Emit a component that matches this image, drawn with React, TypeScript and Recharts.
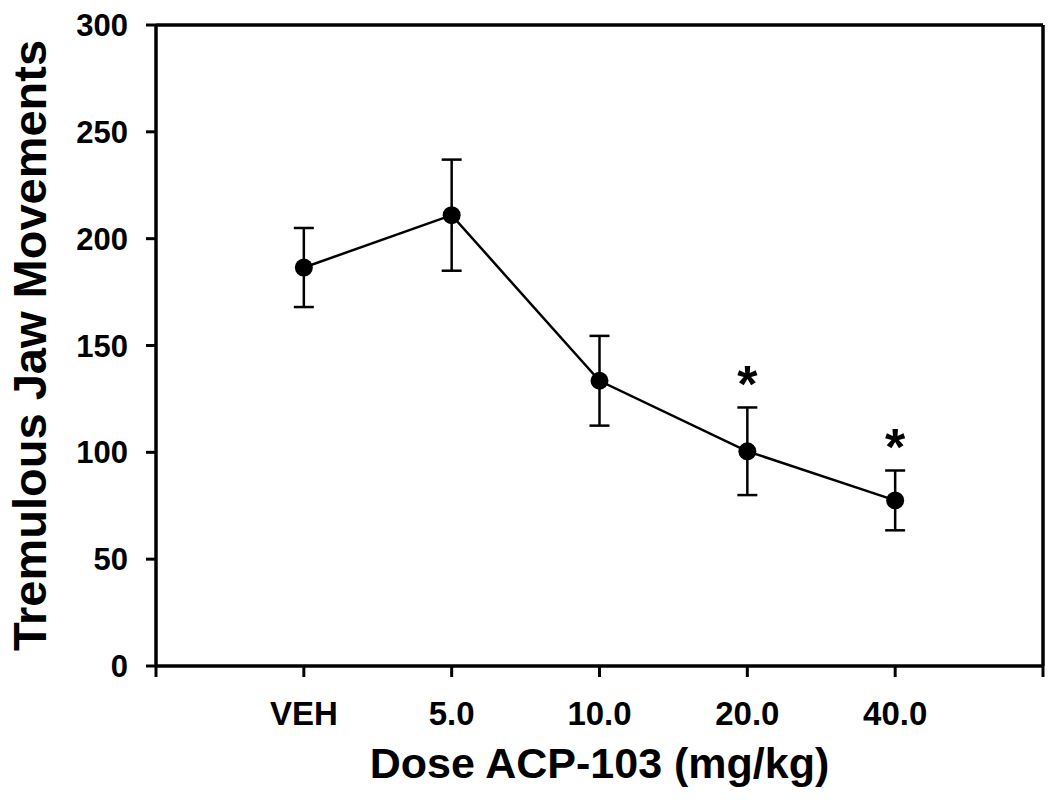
import { LineChart, Line, XAxis, YAxis, ErrorBar, ReferenceLine, LabelList, Label } from 'recharts'

const doses = ['VEH', '5.0', '10.0', '20.0', '40.0']
const jawMeans = [186.5, 211, 133.5, 100.5, 77.5]
const jawSem = [18.5, 26, 21, 20.5, 14]
const significant = [false, false, false, true, true]
const yTicks = [0, 50, 100, 150, 200, 250, 300]
const xTicks = [0, 1, 2, 3, 4, 5, 6]

const data = doses.map((dose, i) => ({
    pos: i + 1,
    dose,
    mean: jawMeans[i],
    sem: jawSem[i],
    starY: significant[i] ? jawMeans[i] + jawSem[i] : null,
}))

const FONT = 'Liberation Sans, Arial, Helvetica, sans-serif'

const renderStar = (props: any) => {
    const { x, y, value } = props
    if (value == null) return null
    return (
        <text x={x} y={y - 5} textAnchor="middle" fontFamily={FONT} fontWeight="bold" fontSize={52} fill="#000">
            *
        </text>
    )
}

const renderYTitle = (props: any) => {
    const { viewBox } = props
    const cy = viewBox.y + viewBox.height / 2
    const cx = 46
    return (
        <text x={cx} y={cy} transform={`rotate(-90, ${cx}, ${cy})`} textAnchor="middle" fontFamily={FONT} fontWeight="bold" fontSize={47} fill="#000">
            Tremulous Jaw Movements
        </text>
    )
}

export default function App() {
    return (
        <div style={{ position: 'absolute', left: 0, top: 0, background: '#fff' }}>
            <LineChart width={1050} height={801} data={data} margin={{ top: 25, right: 7, bottom: 0, left: 0 }}>
                <XAxis
                    type="number"
                    dataKey="pos"
                    domain={[0, 6]}
                    ticks={xTicks}
                    interval={0}
                    tickFormatter={(v: number) => doses[v - 1] ?? ''}
                    height={135}
                    stroke="#000"
                    axisLine={{ strokeWidth: 3.5 }}
                    tickLine={{ strokeWidth: 3 }}
                    tickSize={11}
                    tickMargin={25}
                    tick={{ fontSize: 33, fontWeight: 'bold', fill: '#000', fontFamily: FONT }}
                >
                    <Label
                        value="Dose ACP-103 (mg/kg)"
                        position="insideBottom"
                        offset={23}
                        style={{ fontSize: 43, fontWeight: 'bold', fill: '#000', fontFamily: FONT }}
                    />
                </XAxis>
                <YAxis
                    type="number"
                    domain={[0, 300]}
                    ticks={yTicks}
                    width={156}
                    stroke="#000"
                    axisLine={{ strokeWidth: 3.5 }}
                    tickLine={{ strokeWidth: 3 }}
                    tickSize={10}
                    tickMargin={18}
                    tick={{ fontSize: 31, fontWeight: 'bold', fill: '#000', fontFamily: FONT }}
                    label={{ content: renderYTitle }}
                />
                <ReferenceLine y={300} stroke="#000" strokeWidth={3.5} />
                <ReferenceLine x={6} stroke="#000" strokeWidth={3.5} />
                <Line
                    type="linear"
                    dataKey="mean"
                    stroke="#000"
                    strokeWidth={2.5}
                    dot={{ r: 9, fill: '#000', stroke: '#000', strokeWidth: 0 }}
                    activeDot={false}
                    isAnimationActive={false}
                >
                    <ErrorBar dataKey="sem" direction="y" width={10} stroke="#000" strokeWidth={2.5} />
                </Line>
                <Line
                    type="linear"
                    dataKey="starY"
                    stroke="none"
                    dot={false}
                    activeDot={false}
                    isAnimationActive={false}
                >
                    <LabelList dataKey="starY" content={renderStar} />
                </Line>
            </LineChart>
        </div>
    )
}
